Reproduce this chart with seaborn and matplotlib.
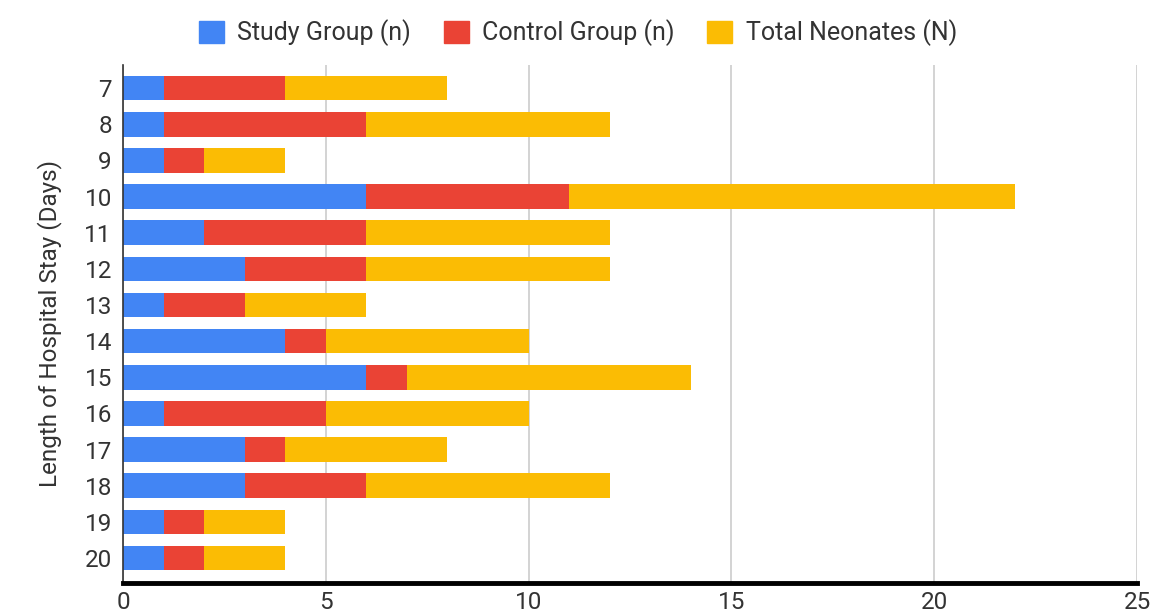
import numpy as np
import pandas as pd
import matplotlib
matplotlib.use("Agg")
import matplotlib.pyplot as plt
import seaborn as sns

# data
stay_days = ["7", "8", "9", "10", "11", "12", "13", "14", "15", "16", "17", "18", "19", "20"]
study_group = [1, 1, 1, 6, 2, 3, 1, 4, 6, 1, 3, 3, 1, 1]
control_group = [3, 5, 1, 5, 4, 3, 2, 1, 1, 4, 1, 3, 1, 1]
total_neonates = [4, 6, 2, 11, 6, 6, 3, 5, 7, 5, 4, 6, 2, 2]

series_names = ["Study Group (n)", "Control Group (n)", "Total Neonates (N)"]
colors = ["#4285F4", "#EA4335", "#FBBC04"]

df = pd.DataFrame({"stay": stay_days, "study": study_group,
                   "control": control_group, "total": total_neonates})
df["cum_study"] = df["study"]
df["cum_control"] = df["study"] + df["control"]
df["cum_total"] = df["cum_control"] + df["total"]

sns.set_theme(style="white")
plt.rcParams["font.family"] = ["Roboto", "DejaVu Sans"]

fig = plt.figure(figsize=(11.56, 6.16), dpi=100)
ax = fig.add_axes([0.1064, 0.0536, 0.8772, 0.8409])

# stacked bars: draw the longest first, shorter ones on top
for col, c in zip(["cum_total", "cum_control", "cum_study"], colors[::-1]):
    sns.barplot(data=df, x=col, y="stay", orient="h", color=c, width=0.68,
                saturation=1, ax=ax, order=stay_days, linewidth=0)

ax.set_xlim(0, 25)
ax.set_ylim(13.69, -0.64)
ax.set_xticks([0, 5, 10, 15, 20, 25])
ax.xaxis.grid(True, color="#cccccc", linewidth=1.2)
ax.set_axisbelow(True)
ax.set_xlabel("")
ax.set_ylabel("Length of Hospital Stay (Days)", fontsize=17.5, color="#333333", labelpad=16)
ax.tick_params(axis="both", labelsize=17.5, colors="#333333", length=0)
ax.tick_params(axis="x", pad=6)
ax.tick_params(axis="y", pad=8)

for s in ["top", "right"]:
    ax.spines[s].set_visible(False)
ax.spines["left"].set_color("#333333")
ax.spines["left"].set_linewidth(1.2)
ax.spines["bottom"].set_color("black")
ax.spines["bottom"].set_linewidth(3.5)

handles = [plt.Rectangle((0, 0), 1, 1, color=c) for c in colors]
fig.legend(handles, series_names, loc="upper center", bbox_to_anchor=(0.5, 1.005),
           ncol=3, frameon=False, fontsize=18, handlelength=1.0, handleheight=1.0,
           columnspacing=1.3, handletextpad=0.55, labelcolor="#333333")

fig.savefig("out.png", dpi=100)
